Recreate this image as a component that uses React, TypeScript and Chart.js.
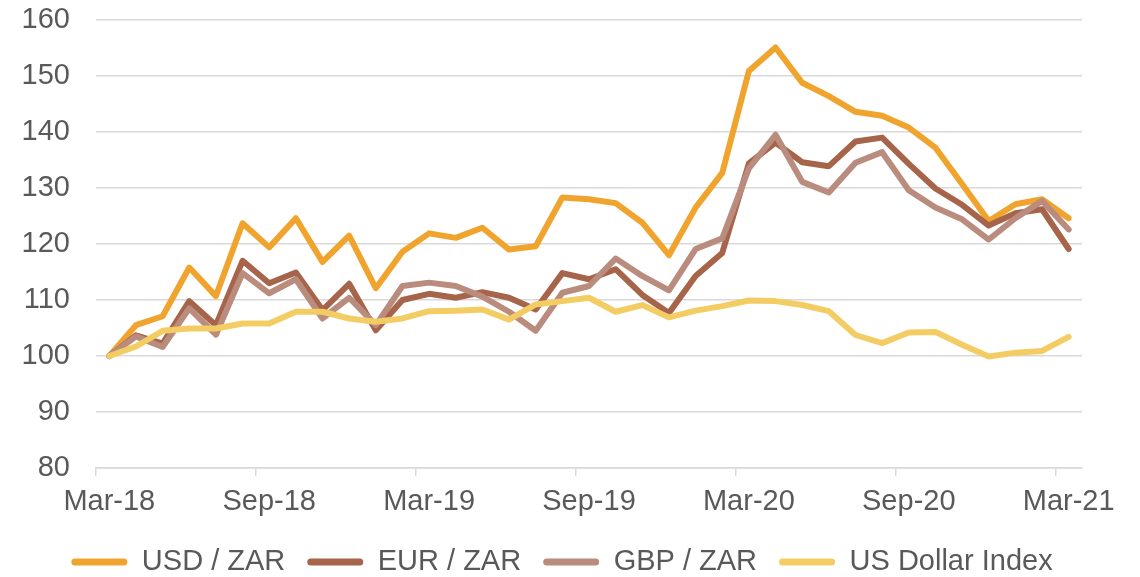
import React, { useEffect, useRef } from "react";
import { Chart, registerables } from "chart.js";

Chart.register(...registerables);

const categories = [
  "Mar-18", "Apr-18", "May-18", "Jun-18", "Jul-18", "Aug-18", "Sep-18", "Oct-18", "Nov-18", "Dec-18",
  "Jan-19", "Feb-19", "Mar-19", "Apr-19", "May-19", "Jun-19", "Jul-19", "Aug-19", "Sep-19", "Oct-19",
  "Nov-19", "Dec-19", "Jan-20", "Feb-20", "Mar-20", "Apr-20", "May-20", "Jun-20", "Jul-20", "Aug-20",
  "Sep-20", "Oct-20", "Nov-20", "Dec-20", "Jan-21", "Feb-21", "Mar-21",
];

const usdZar = [100, 105.5, 107.1, 115.8, 110.7, 123.7, 119.4, 124.6, 116.8, 121.5, 112.1, 118.6, 121.9, 121.1, 122.9, 119.0, 119.6, 128.3, 128.0, 127.3, 123.8, 118.0, 126.5, 132.7, 150.9, 155.1, 148.8, 146.4, 143.6, 142.9, 140.8, 137.2, 130.7, 124.1, 127.1, 128.0, 124.6];
const eurZar = [100, 103.7, 102.2, 109.8, 105.5, 117.0, 113.0, 114.9, 108.2, 112.9, 104.6, 110.0, 111.1, 110.4, 111.4, 110.4, 108.3, 114.8, 113.7, 115.5, 110.9, 107.7, 114.3, 118.4, 134.4, 138.1, 134.6, 133.9, 138.3, 139.0, 134.3, 129.9, 127.0, 123.3, 125.5, 126.2, 119.1];
const gbpZar = [100, 103.5, 101.6, 108.5, 103.8, 114.8, 111.2, 113.7, 106.7, 110.4, 105.5, 112.5, 113.1, 112.5, 110.6, 107.9, 104.5, 111.3, 112.5, 117.4, 114.3, 111.7, 119.1, 121.0, 133.5, 139.5, 131.1, 129.2, 134.5, 136.4, 129.6, 126.5, 124.4, 120.8, 124.6, 127.7, 122.6];
const usDollarIndex = [100, 101.7, 104.5, 104.9, 104.9, 105.8, 105.8, 107.9, 107.9, 106.7, 106.1, 106.7, 108.0, 108.1, 108.3, 106.5, 109.2, 109.8, 110.4, 107.9, 109.1, 106.9, 108.1, 108.9, 109.9, 109.8, 109.1, 108.0, 103.75, 102.3, 104.2, 104.3, 102.0, 99.9, 100.6, 100.9, 103.4];

const seriesNames = ["USD / ZAR", "EUR / ZAR", "GBP / ZAR", "US Dollar Index"];
const seriesColors = ["#F0A42E", "#A6654A", "#B98C7E", "#F3CD64"];

const FONT = '"Liberation Sans", Arial, sans-serif';
const TEXT = "#595959";
const GRID = "#D9D9D9";

// Fix the legend band so it sits just under the x-axis labels, centred like the original.
const legendBand = {
  id: "legendBand",
  beforeLayout(chart: any) {
    const lg = chart.legend;
    if (lg && !lg.__bandPatched) {
      const orig = lg.fit.bind(lg);
      lg.fit = function () {
        orig();
        this.height = 51.5;
      };
      lg.__bandPatched = true;
    }
  },
  afterLayout(chart: any) {
    const lg = chart.legend;
    if (lg) {
      lg.left = 42;
      lg.right = 1082;
      lg.width = 1040;
    }
  },
};

export default function App() {
  const ref = useRef<HTMLCanvasElement | null>(null);

  useEffect(() => {
    document.body.style.margin = "0";
    const canvas = ref.current;
    if (!canvas) return;
    const values = [usdZar, eurZar, gbpZar, usDollarIndex];
    const chart = new Chart(canvas, {
      type: "line",
      data: {
        labels: categories,
        datasets: values.map((v, i) => ({
          label: seriesNames[i],
          data: v,
          borderColor: seriesColors[i],
          backgroundColor: seriesColors[i],
          borderWidth: 6,
          pointRadius: 0,
          tension: 0,
          borderCapStyle: "round",
          borderJoinStyle: "round",
          order: 4 - i,
        })),
      },
      options: {
        responsive: false,
        animation: false,
        events: [],
        layout: { padding: { top: 0, right: 58, bottom: 0, left: 0 } },
        plugins: {
          tooltip: { enabled: false },
          legend: {
            position: "bottom",
            labels: {
              boxWidth: 56,
              boxHeight: 7,
              useBorderRadius: true,
              borderRadius: 3.5,
              padding: 22,
              color: TEXT,
              font: { family: FONT, size: 29 },
              sort: (a: any, b: any) => a.datasetIndex - b.datasetIndex,
              generateLabels: (c: any) =>
                Chart.defaults.plugins.legend.labels
                  .generateLabels(c)
                  .map((l: any) => ({ ...l, lineWidth: 0, fillStyle: l.strokeStyle })),
            },
          },
        },
        scales: {
          x: {
            type: "category",
            offset: true,
            afterFit: (s: any) => {
              s.height = 57.5;
            },
            grid: {
              offset: true,
              drawOnChartArea: false,
              drawTicks: true,
              tickLength: 8,
              lineWidth: 1.5,
              color: (ctx: any) => (ctx.index % 6 === 0 && ctx.index <= 36 ? GRID : "rgba(0,0,0,0)"),
            },
            border: { display: true, color: GRID, width: 1.5 },
            ticks: {
              autoSkip: false,
              maxRotation: 0,
              minRotation: 0,
              padding: 8.6,
              color: TEXT,
              font: { family: FONT, size: 29 },
              callback: (_v: any, i: number) => (i % 6 === 0 ? categories[i] : ""),
            },
          },
          y: {
            min: 80,
            max: 160,
            afterFit: (s: any) => {
              s.width = 96;
              s.paddingTop = 20;
              s.paddingBottom = 0;
            },
            grid: { color: GRID, lineWidth: 1.5, drawTicks: false },
            border: { display: false },
            ticks: {
              stepSize: 10,
              padding: 26,
              color: TEXT,
              font: { family: FONT, size: 29 },
            },
          },
        },
      },
      plugins: [legendBand],
    } as any);
    return () => chart.destroy();
  }, []);

  return (
    <div style={{ width: 1140, height: 577, background: "#fff" }}>
      <canvas ref={ref} width={1140} height={577} style={{ display: "block" }} />
    </div>
  );
}
